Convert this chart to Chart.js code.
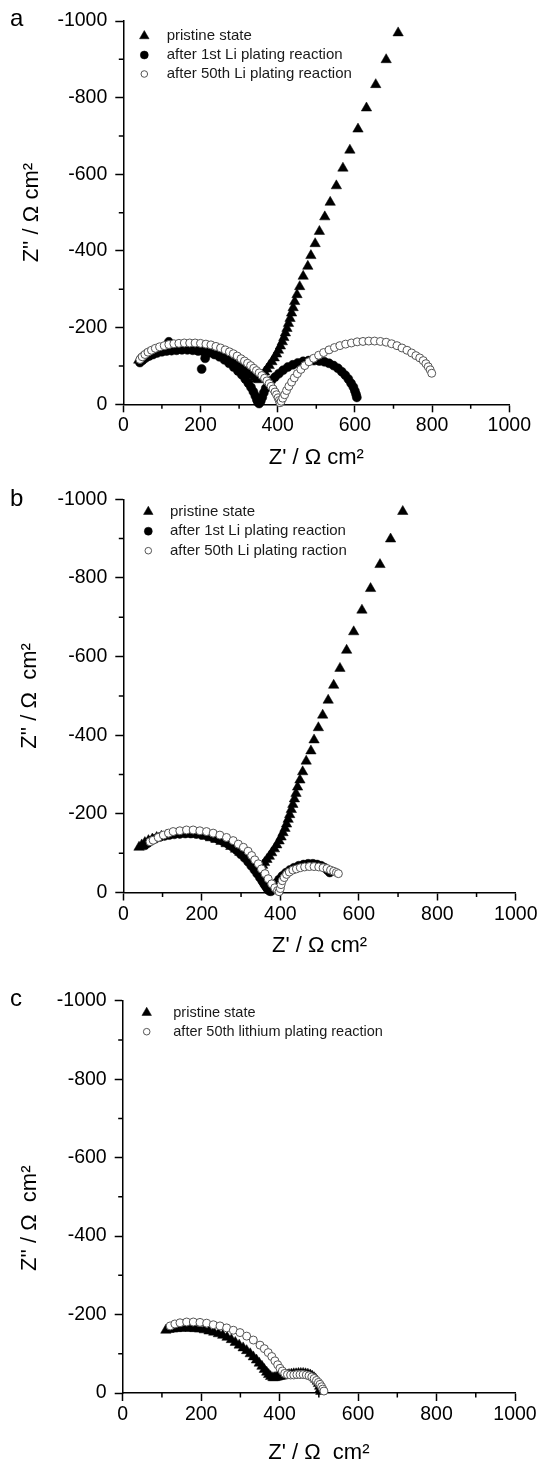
<!DOCTYPE html>
<html>
<head>
<meta charset="utf-8">
<title>Impedance spectra</title>
<script src="https://cdn.jsdelivr.net/npm/chart.js@4.4.1/dist/chart.umd.min.js"></script>
<style>
  html, body { margin: 0; padding: 0; background: #fff; }
  #page { position: relative; width: 540px; height: 1468px; overflow: hidden; font-family: "Liberation Sans", Arial, sans-serif; }
  .panel { position: absolute; left: 0; width: 540px; }
  .panel canvas { display: block; }
  .tag { position: absolute; font-size: 24px; line-height: 24px; color: #000; }
</style>
</head>
<body>
<div id="page">
  <div class="panel" style="top:0px;height:475px"><canvas id="chartA" width="540" height="475"></canvas></div>
  <div class="panel" style="top:475px;height:490px"><canvas id="chartB" width="540" height="490"></canvas></div>
  <div class="panel" style="top:965px;height:503px"><canvas id="chartC" width="540" height="503"></canvas></div>
  <span class="tag" style="left:10px;top:6px">a</span>
  <span class="tag" style="left:10px;top:486px">b</span>
  <span class="tag" style="left:10px;top:986px">c</span>
</div>
<script>
const FONT = "'Liberation Sans', Arial, sans-serif";

// axis ticks
const majorX = [0, 200, 400, 600, 800, 1000];
const majorY = [-1000, -800, -600, -400, -200, 0];
const minorX = [100, 300, 500, 700, 900];
const minorY = [-100, -300, -500, -700, -900];

// pristine state (panels a and b), Z' and Z'' in ohm cm2
const pristineRe = [40, 47, 55, 64, 74, 85, 97, 110, 124, 138, 152, 166, 180, 194, 208, 222, 236, 249, 262, 274, 286, 297, 307, 316, 325, 333, 340, 346, 351,
  355, 360, 366, 372, 378, 385, 391, 397, 402, 407, 412, 416, 420, 424, 428, 432, 436, 440, 444, 450, 457, 466, 478, 486, 497, 508, 522, 536, 552, 569, 587, 608, 630, 654, 681, 712];
const pristineIm = [-115, -121, -127, -132, -136, -140, -143, -146, -148, -149, -149, -149, -148, -146, -143, -139, -135, -130, -124, -117, -110, -102, -95, -88, -81, -75, -70, -66, -64,
  -69, -76, -84, -92, -101, -111, -121, -131, -141, -152, -163, -174, -186, -198, -211, -224, -238, -252, -268, -286, -307, -334, -360, -388, -419, -451, -489, -527, -570, -616, -663, -718, -773, -834, -899, -969];

// panel a
const a1stRe = [43, 50, 58, 67, 77, 88, 100, 112, 118, 125, 138, 152, 166, 180, 194, 203, 208, 212, 222, 236, 249, 262, 274, 286, 297, 307, 316, 324, 331, 337,
  342, 346, 349, 352, 356, 360, 364, 369, 376, 384, 393, 403, 414, 426, 439, 452, 466, 480, 494, 508, 521, 533, 545, 556, 566, 575, 583, 590, 596, 600, 603, 605];
const a1stIm = [-109, -115, -121, -126, -130, -134, -137, -139, -163, -140, -141, -142, -142, -141, -139, -92, -137, -120, -134, -130, -124, -116, -107, -97, -87, -77, -66, -55, -44, -33,
  -22, -12, -5, -2, -8, -18, -30, -42, -53, -62, -71, -80, -89, -97, -103, -108, -112, -114, -114, -113, -111, -107, -101, -94, -85, -76, -66, -55, -45, -35, -26, -18];
const a50thRe = [43, 49, 56, 64, 73, 83, 94, 106, 118, 131, 144, 158, 172, 186, 200, 214, 227, 240, 252, 264, 275, 285, 295, 305, 314, 322, 330, 338, 345, 352, 359, 366, 372, 378, 383, 388, 393, 397, 401, 404, 406,
  409, 413, 418, 423, 429, 436, 443, 451, 460, 470, 481, 493, 506, 519, 533, 547, 561, 576, 591, 606, 621, 636, 651, 666, 681, 695, 709, 722, 735, 747, 758, 768, 777, 784, 790, 795, 799];
const a50thIm = [-117, -124, -130, -136, -141, -146, -150, -153, -156, -158, -159, -160, -160, -160, -159, -157, -155, -151, -147, -142, -137, -132, -126, -119, -113, -107, -101, -94, -88, -82, -75, -68, -61, -54, -47, -40, -32, -25, -17, -10, -4,
  -8, -16, -25, -36, -47, -58, -69, -80, -91, -101, -111, -120, -128, -135, -142, -148, -153, -157, -160, -163, -164, -165, -165, -164, -162, -158, -153, -147, -141, -134, -127, -121, -114, -106, -98, -90, -81];

// panel b
const b1stRe = [55, 63, 72, 82, 93, 105, 117, 130, 144, 158, 172, 186, 200, 214, 228, 241, 254, 266, 278, 289, 299, 309, 318, 326, 334, 341, 348, 354, 359, 364, 368, 372, 376,
  379, 384, 390, 397, 405, 414, 424, 435, 447, 459, 471, 483, 494, 504, 513, 520, 526];
const b1stIm = [-120, -126, -132, -137, -141, -144, -146, -148, -149, -150, -150, -149, -147, -144, -140, -136, -130, -124, -116, -107, -98, -88, -78, -68, -58, -48, -38, -29, -21, -14, -8, -4, -3,
  -6, -15, -24, -33, -42, -50, -57, -63, -68, -71, -73, -73, -71, -68, -63, -57, -51];
const b50thRe = [68, 76, 89, 102, 115, 127, 144, 161, 178, 195, 212, 229, 246, 263, 280, 293, 306, 318, 327, 335, 344, 352, 361, 369, 378, 386, 393, 397,
  400, 402, 405, 410, 416, 423, 432, 441, 451, 462, 474, 486, 498, 509, 519, 528, 536, 543, 548];
const b50thIm = [-129, -133, -140, -146, -151, -155, -157, -159, -159, -157, -155, -151, -146, -140, -132, -123, -115, -105, -94, -83, -73, -60, -48, -35, -22, -12, -5, -2,
  -10, -20, -30, -38, -46, -52, -57, -60, -63, -65, -66, -66, -65, -63, -61, -57, -54, -51, -48];

// panel c
const cPristineRe = [110, 118, 127, 137, 148, 160, 172, 184, 196, 208, 220, 232, 244, 255, 266, 277, 287, 297, 307, 316, 325, 333, 341, 348, 355, 361, 367, 372, 377, 383,
  387, 391, 395, 399, 404, 409, 414, 419, 424, 430, 436, 442, 448, 454, 460, 466, 472, 478, 483, 488, 492, 496, 499, 502, 504, 505];
const cPristineIm = [-160, -162, -163, -164, -165, -165, -165, -164, -163, -161, -158, -155, -151, -147, -142, -136, -129, -122, -115, -108, -100, -92, -84, -76, -68, -60, -53, -47, -42, -39,
  -39, -40, -41, -42, -43, -44, -45, -46, -47, -48, -49, -49, -50, -50, -50, -49, -48, -46, -43, -39, -35, -30, -24, -17, -10, -4];
const c50thRe = [121, 133, 146, 163, 180, 197, 214, 231, 248, 265, 282, 299, 316, 333, 350, 361, 371, 380, 388, 395, 401, 407, 413, 420, 428, 436, 444, 452, 460, 468, 475, 482, 488, 494, 499, 503, 507, 510, 513];
const c50thIm = [-171, -176, -179, -181, -181, -180, -178, -174, -171, -166, -160, -154, -145, -135, -122, -113, -103, -93, -82, -72, -63, -56, -50, -47, -46, -46, -47, -47, -47, -46, -44, -41, -37, -32, -27, -22, -16, -10, -5];

function points(re, im) {
  return re.map((x, i) => ({ x: x, y: im[i] }));
}

const styles = {
  triangle: { pointStyle: 'triangle', pointRadius: 6, backgroundColor: '#000', borderColor: '#000', borderWidth: 0.5, order: 2, legendRadius: 5.5 },
  filled: { pointStyle: 'circle', pointRadius: 4.5, backgroundColor: '#000', borderColor: '#000', borderWidth: 0.5, order: 1, legendRadius: 4 },
  open: { pointStyle: 'circle', pointRadius: 4, backgroundColor: '#fff', borderColor: '#555', borderWidth: 1, order: 0, legendRadius: 3.3 }
};

function series(label, re, im, style) {
  const s = styles[style];
  return {
    label: label,
    data: points(re, im),
    pointStyle: s.pointStyle,
    pointRadius: s.pointRadius,
    backgroundColor: s.backgroundColor,
    borderColor: s.borderColor,
    borderWidth: s.borderWidth,
    order: s.order,
    clip: false
  };
}

// legend drawn inside the plot area, as in the figure
const innerLegend = {
  id: 'innerLegend',
  afterDraw(chart, args, opts) {
    const { ctx, chartArea } = chart;
    ctx.save();
    chart.data.datasets.forEach((ds, i) => {
      const y = chartArea.top + opts.dy + i * opts.row;
      const x = chartArea.left + opts.dx;
      const r = Object.values(styles).find(s => s.pointStyle === ds.pointStyle && s.backgroundColor === ds.backgroundColor).legendRadius;
      ctx.fillStyle = ds.backgroundColor;
      ctx.strokeStyle = ds.borderColor;
      ctx.lineWidth = ds.borderWidth;
      Chart.helpers.drawPoint(ctx, { pointStyle: ds.pointStyle, radius: r, borderWidth: ds.borderWidth, rotation: 0 }, x, y);
      ctx.fillStyle = '#1a1a1a';
      ctx.font = opts.size + 'px ' + FONT;
      ctx.textAlign = 'left';
      ctx.textBaseline = 'middle';
      ctx.fillText(ds.label, chartArea.left + opts.tx, y);
    });
    ctx.restore();
  }
};

// small ticks between the labelled ones
const minorTicks = {
  id: 'minorTicks',
  afterDraw(chart) {
    const { ctx } = chart;
    const xs = chart.scales.x;
    const ys = chart.scales.y;
    ctx.save();
    ctx.strokeStyle = '#000';
    ctx.lineWidth = 1.5;
    ctx.beginPath();
    minorX.forEach(v => {
      const p = xs.getPixelForValue(v);
      ctx.moveTo(p, xs.top);
      ctx.lineTo(p, xs.top + 4.5);
    });
    minorY.forEach(v => {
      const p = ys.getPixelForValue(v);
      ctx.moveTo(ys.right, p);
      ctx.lineTo(ys.right - 4.5, p);
    });
    ctx.stroke();
    ctx.restore();
  }
};

function makePanel(id, box, height, datasets, legend, xTitle, yTitle, xPad, yPad) {
  return new Chart(document.getElementById(id), {
    type: 'scatter',
    data: { datasets: datasets },
    options: {
      responsive: false,
      animation: false,
      events: [],
      layout: { autoPadding: false, padding: { left: 0, top: box.top, right: 540 - box.right, bottom: 0 } },
      plugins: {
        legend: { display: false },
        tooltip: { enabled: false },
        innerLegend: legend
      },
      scales: {
        x: {
          type: 'linear',
          position: 'bottom',
          min: 0,
          max: 1000,
          afterFit: s => { s.height = height - box.bottom; },
          afterBuildTicks: s => { s.ticks = majorX.map(v => ({ value: v })); },
          ticks: { callback: v => String(v), font: { family: FONT, size: 19.5 }, color: '#000', padding: 2, maxRotation: 0, autoSkip: false },
          grid: { drawOnChartArea: false, drawTicks: true, tickLength: 8, tickWidth: 1.5, tickColor: '#000' },
          border: { display: true, color: '#000', width: 1.5 },
          title: { display: true, text: xTitle, font: { family: FONT, size: 22 }, color: '#000', padding: { top: 0, bottom: xPad } }
        },
        y: {
          type: 'linear',
          position: 'left',
          min: -1000,
          max: 0,
          reverse: true,
          afterFit: s => { s.width = box.left; },
          afterBuildTicks: s => { s.ticks = majorY.map(v => ({ value: v })); },
          ticks: { callback: v => String(v), font: { family: FONT, size: 19.5 }, color: '#000', padding: 8, autoSkip: false },
          grid: { drawOnChartArea: false, drawTicks: true, tickLength: 8, tickWidth: 1.5, tickColor: '#000' },
          border: { display: true, color: '#000', width: 1.5 },
          title: { display: true, text: yTitle, font: { family: FONT, size: 22 }, color: '#000', padding: { top: yPad, bottom: 0 } }
        }
      }
    },
    plugins: [innerLegend, minorTicks]
  });
}

makePanel('chartA', { left: 123.3, top: 21, right: 509.3, bottom: 404.3 }, 475, [
  series('pristine state', pristineRe, pristineIm, 'triangle'),
  series('after 1st Li plating reaction', a1stRe, a1stIm, 'filled'),
  series('after 50th Li plating reaction', a50thRe, a50thIm, 'open')
], { dx: 21, dy: 15, row: 19, tx: 43.4, size: 15 }, "Z' / \u03A9 cm\u00B2", "Z'' / \u03A9 cm\u00B2", 4.3, 18.3);

makePanel('chartB', { left: 123.3, top: 24.3, right: 515.8, bottom: 417.5 }, 490, [
  series('pristine state', pristineRe, pristineIm, 'triangle'),
  series('after 1st Li plating reaction', b1stRe, b1stIm, 'filled'),
  series('after 50th Li plating raction', b50thRe, b50thIm, 'open')
], { dx: 25, dy: 12.4, row: 19.5, tx: 46.7, size: 15 }, "Z' / \u03A9 cm\u00B2", "Z'' / \u03A9  cm\u00B2", 5.8, 16.8);

makePanel('chartC', { left: 122.7, top: 35.7, right: 515, bottom: 428 }, 503, [
  series('pristine state', cPristineRe, cPristineIm, 'triangle'),
  series('after 50th lithium plating reaction', c50thRe, c50thIm, 'open')
], { dx: 24, dy: 12, row: 19, tx: 50.6, size: 14.5 }, "Z' / \u03A9  cm\u00B2", "Z'' / \u03A9  cm\u00B2       ", 1.8, 16.8);
</script>
</body>
</html>
